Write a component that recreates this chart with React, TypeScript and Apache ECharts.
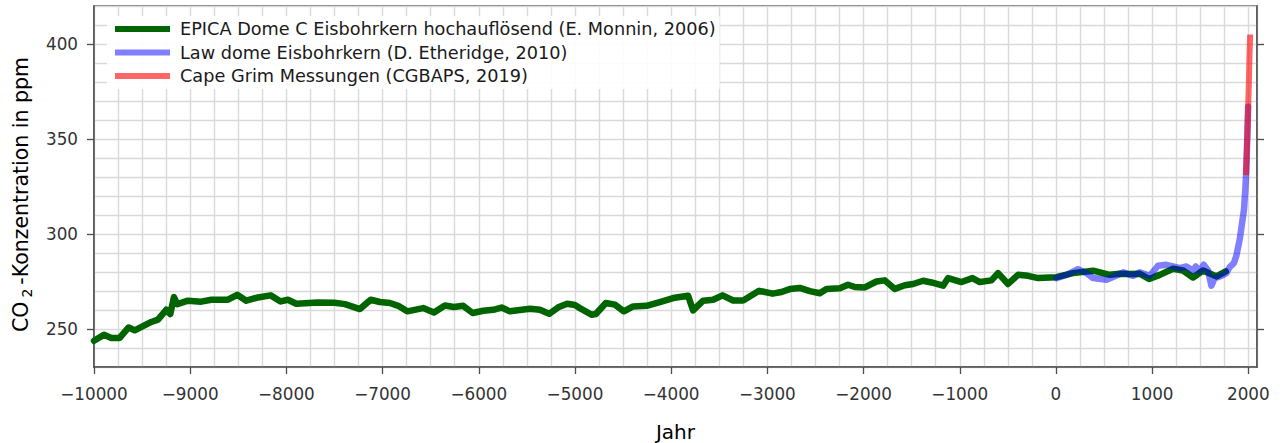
import React, { useEffect, useRef } from "react";
import * as echarts from "echarts";

const EPICA_YEARS = [
  -10000, -9896, -9820, -9733, -9640, -9577, -9404, -9335, -9249, -9207, -9169, -9134,
  -9023, -8885, -8781, -8607, -8511, -8417, -8296, -8164, -8060, -7984, -7897, -7672,
  -7500, -7391, -7236, -7124, -7028, -6924, -6837, -6744, -6578, -6466, -6352, -6259,
  -6162, -6064, -5954, -5850, -5763, -5677, -5469, -5365, -5268, -5174, -5081, -5001,
  -4949, -4828, -4783, -4679, -4585, -4492, -4395, -4256, -4118, -3980, -3824, -3772,
  -3668, -3564, -3466, -3356, -3252, -3086, -2946, -2853, -2767, -2663, -2559, -2455,
  -2385, -2247, -2161, -2091, -1987, -1866, -1779, -1675, -1571, -1485, -1381, -1294,
  -1173, -1121, -982, -868, -792, -671, -602, -498, -394, -290, -186, 5,
  178, 386, 559, 663, 767, 871, 968, 1079, 1217, 1321, 1425, 1529, 1668, 1765,
];
const EPICA_PPM = [
  243.8, 247.0, 245.3, 245.3, 250.8, 249.3, 253.7, 254.9, 260.1, 257.9, 266.8, 263.1,
  264.9, 264.4, 265.4, 265.4, 268.0, 264.9, 266.6, 267.7, 264.5, 265.4, 263.3, 264.0,
  263.8, 263.1, 260.5, 265.4, 264.2, 263.7, 262.2, 259.3, 261.0, 258.7, 262.4, 261.6,
  262.2, 258.4, 259.6, 260.1, 261.3, 259.3, 260.7, 260.1, 258.0, 261.4, 263.3, 262.6,
  261.0, 257.5, 257.9, 263.7, 262.8, 259.3, 261.9, 262.2, 264.2, 266.3, 267.5, 259.8,
  264.9, 265.4, 267.7, 265.0, 265.0, 270.1, 268.6, 269.5, 271.0, 271.6, 269.9, 268.8,
  271.1, 271.4, 273.3, 272.1, 271.9, 275.0, 275.6, 271.1, 273.0, 273.7, 275.4, 274.5,
  272.8, 276.8, 274.7, 276.8, 274.7, 275.6, 279.4, 273.7, 278.5, 278.0, 276.8, 277.3,
  279.4, 280.7, 278.5, 279.1, 278.9, 279.1, 276.3, 278.5, 281.7, 280.8, 277.1, 280.8, 277.7, 280.3,
];

const LAW_YEARS = [
  5, 109, 230, 317, 386, 525, 629, 698, 802, 871, 975, 1061, 1148, 1217, 1287, 1356,
  1425, 1453, 1495, 1536, 1581, 1616, 1650, 1720, 1772, 1806, 1850, 1875, 1910, 1933,
  1955, 1968, 1977, 1988, 1998,
];
const LAW_PPM = [
  276.8, 278.5, 281.5, 279.4, 276.8, 275.9, 278.2, 279.8, 278.0, 279.8, 278.0, 283.3,
  283.8, 282.9, 282.0, 282.9, 280.7, 282.9, 280.3, 283.8, 280.8, 272.8, 276.8, 278.0,
  279.4, 282.6, 284.7, 288.5, 297.0, 305.0, 313.0, 323.0, 332.0, 349.0, 367.0,
];

const CAPE_GRIM_YEARS = [1976, 1985, 1995, 2005, 2012, 2019];
const CAPE_GRIM_PPM = [331, 345, 361, 379, 394, 405];

const X_TICKS = [-10000, -9000, -8000, -7000, -6000, -5000, -4000, -3000, -2000, -1000, 0, 1000, 2000];
const Y_TICKS = [250, 300, 350, 400];

const SERIES_NAMES = [
  "EPICA Dome C Eisbohrkern hochauflösend (E. Monnin, 2006)",
  "Law dome Eisbohrkern (D. Etheridge, 2010)",
  "Cape Grim Messungen (CGBAPS, 2019)",
];

const FONT = "DejaVu Sans";

function zip(xs: number[], ys: number[]) {
  return xs.map((x, i) => [x, ys[i]]);
}

export default function App() {
  const ref = useRef<HTMLDivElement>(null);

  useEffect(() => {
    if (!ref.current) return;
    const chart = echarts.init(ref.current, null, { renderer: "svg" });
    const fmtX = (v: number) => (v < 0 ? "\u2212" + Math.abs(v) : String(v));
    const X_MIN = -10000;
    const X_MAX = 2090;
    const Y_MIN = 230;
    const Y_MAX = 420;
    const axisLineStyle = { color: "#4d4d4d", width: 1.5 };
    const tickStyle = { color: "#4d4d4d", width: 1.3 };
    const gridLine = { show: true, lineStyle: { color: "#dadada", width: 1.4 } };
    chart.setOption({
      animation: false,
      backgroundColor: "#ffffff",
      grid: {
        left: 94,
        right: 26,
        top: 6,
        bottom: 76,
        containLabel: false,
        outerBoundsMode: "none",
        show: true,
        borderColor: "#4d4d4d",
        borderWidth: 1.5,
        backgroundColor: "transparent",
      },
      legend: {
        orient: "vertical",
        left: 107,
        top: 16,
        padding: [4, 4, 4, 8],
        itemWidth: 55,
        itemHeight: 6,
        itemGap: 5.5,
        icon: "rect",
        backgroundColor: "rgba(255,255,255,0.92)",
        itemStyle: { borderWidth: 0 },
        textStyle: {
          fontFamily: FONT,
          fontSize: 17.7,
          color: "#1a1a1a",
          padding: [0, 0, 0, 5],
        },
        data: SERIES_NAMES,
      },
      xAxis: [
        {
          type: "value",
          min: X_MIN,
          max: X_MAX,
          interval: 250,
          name: "Jahr",
          nameLocation: "middle",
          nameGap: 55,
          nameTextStyle: { fontFamily: FONT, fontSize: 20, color: "#000" },
          axisLine: { show: true, onZero: false, lineStyle: axisLineStyle },
          axisTick: { show: true, customValues: X_TICKS, length: 7, lineStyle: tickStyle },
          axisLabel: {
            customValues: X_TICKS,
            formatter: fmtX,
            fontFamily: FONT,
            fontSize: 16.8,
            color: "#333",
            margin: 18,
          },
          splitLine: { show: false },
        },
        {
          type: "value",
          min: X_MIN,
          max: X_MAX,
          interval: 250,
          position: "bottom",
          axisLine: { show: false },
          axisTick: { show: false },
          axisLabel: { show: false },
          splitLine: gridLine,
        },
      ],
      yAxis: [
        {
          type: "value",
          min: Y_MIN,
          max: Y_MAX,
          interval: 10,
          position: "left",
          name: "{a|CO}{b|2}{a|-Konzentration in ppm}",
          nameLocation: "middle",
          nameGap: 60,
          nameTextStyle: {
            fontFamily: FONT,
            fontSize: 20.5,
            color: "#000",
            padding: [0, 16, 0, 0],
            rich: {
              a: { fontFamily: FONT, fontSize: 20.5, color: "#000", lineHeight: 26 },
              b: {
                fontFamily: FONT,
                fontSize: 14,
                color: "#000",
                verticalAlign: "bottom",
                lineHeight: 15,
                padding: [0, 4, 0, 4],
              },
            },
          },
          axisLine: { show: true, onZero: false, lineStyle: axisLineStyle },
          axisTick: { show: true, customValues: Y_TICKS, length: 7, lineStyle: tickStyle },
          axisLabel: {
            customValues: Y_TICKS,
            fontFamily: FONT,
            fontSize: 16.8,
            color: "#333",
            margin: 16,
          },
          splitLine: { show: false },
        },
        {
          type: "value",
          min: Y_MIN,
          max: Y_MAX,
          interval: 10,
          position: "right",
          axisLine: { show: true, onZero: false, lineStyle: axisLineStyle },
          axisTick: { show: true, customValues: Y_TICKS, length: 7, lineStyle: tickStyle },
          axisLabel: { show: false },
          splitLine: { show: false },
        },
        {
          type: "value",
          min: Y_MIN,
          max: Y_MAX,
          interval: 10,
          position: "left",
          axisLine: { show: false },
          axisTick: { show: false },
          axisLabel: { show: false },
          splitLine: gridLine,
        },
      ],
      series: [
        {
          name: SERIES_NAMES[0],
          type: "line",
          xAxisIndex: 0,
          yAxisIndex: 0,
          data: zip(EPICA_YEARS, EPICA_PPM),
          showSymbol: false,
          symbol: "none",
          color: "#006400",
          lineStyle: { color: "#006400", width: 6.5, join: "round", cap: "round" },
        },
        {
          name: SERIES_NAMES[1],
          type: "line",
          xAxisIndex: 0,
          yAxisIndex: 0,
          data: zip(LAW_YEARS, LAW_PPM),
          showSymbol: false,
          symbol: "none",
          color: "rgba(0,0,255,0.5)",
          lineStyle: { color: "rgba(0,0,255,0.5)", width: 6.5, join: "round", cap: "round" },
        },
        {
          name: SERIES_NAMES[2],
          type: "line",
          xAxisIndex: 0,
          yAxisIndex: 0,
          data: zip(CAPE_GRIM_YEARS, CAPE_GRIM_PPM),
          showSymbol: false,
          symbol: "none",
          color: "rgba(255,0,0,0.6)",
          lineStyle: { color: "rgba(255,0,0,0.6)", width: 6, join: "round", cap: "butt" },
        },
      ],
    });
    return () => chart.dispose();
  }, []);

  return (
    <div
      ref={ref}
      style={{ position: "fixed", left: 0, top: 0, width: 1283, height: 443, background: "#fff" }}
    />
  );
}
